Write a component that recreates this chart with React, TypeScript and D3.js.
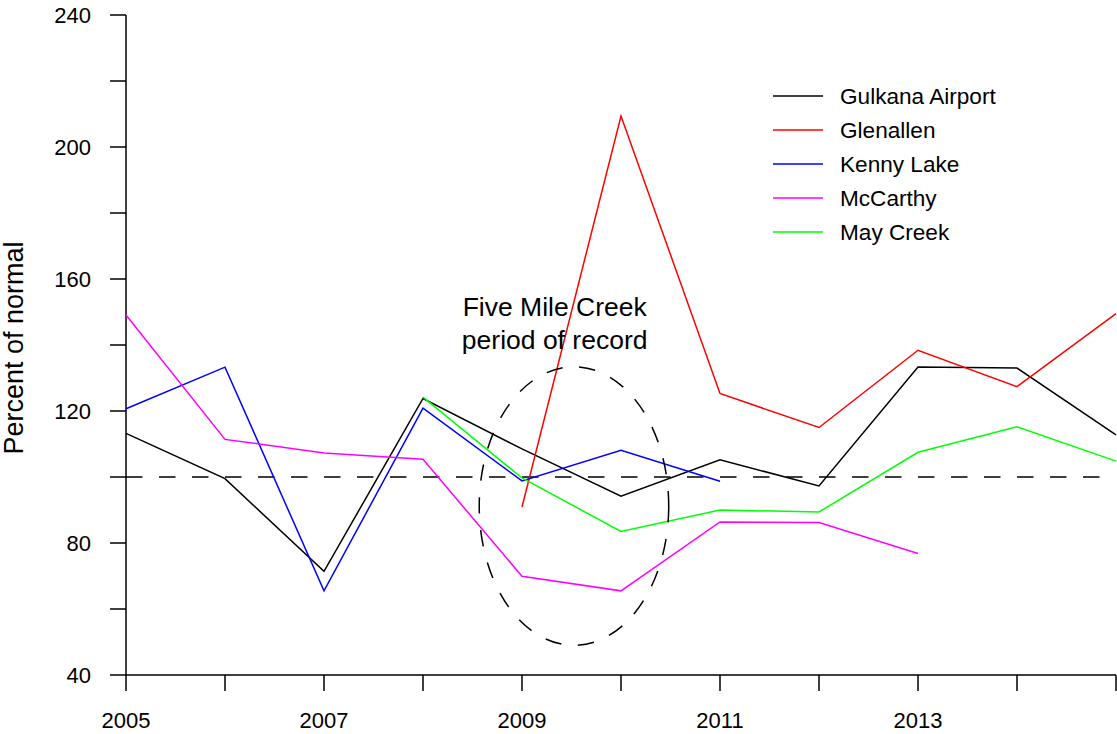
import React from "react";
import * as d3 from "d3";

const years = [2005, 2006, 2007, 2008, 2009, 2010, 2011, 2012, 2013, 2014, 2015];
const gulkana = [113.2, 99.5, 71.4, 123.8, 108.5, 94.2, 105.2, 97.3, 133.3, 133.0, 112.8];
const glenallen = [null, null, null, null, 90.9, 209.4, 125.3, 115.0, 138.4, 127.4, 149.5];
const kennyLake = [120.7, 133.3, 65.5, 120.9, 98.8, 108.1, 98.7, null, null, null, null];
const mcCarthy = [149.1, 111.4, 107.3, 105.4, 69.9, 65.5, 86.4, 86.2, 76.8, null, null];
const mayCreek = [null, null, null, 124.2, 99.7, 83.5, 90.0, 89.4, 107.5, 115.2, 104.8];

const seriesNames = ["Gulkana Airport", "Glenallen", "Kenny Lake", "McCarthy", "May Creek"];
const seriesColors = ["#000000", "#ff0000", "#0000ff", "#ff00ff", "#00ff00"];
const seriesValues = [gulkana, glenallen, kennyLake, mcCarthy, mayCreek];

const yTicks = [40, 60, 80, 100, 120, 140, 160, 180, 200, 220, 240];
const yTickLabels = [40, 80, 120, 160, 200, 240];
const xTickLabels = [2005, 2007, 2009, 2011, 2013];
const refLine = 100;

const annotationLines = ["Five Mile Creek", "period of record"];
const annotationX = 2009.33;
const annotationY = [148.7, 138.9];
const ellipseCenter = [2009.525, 91.2];
const ellipseRadii = [0.957, 42.2];

const W = 1117;
const H = 734;
const FONT = "'Liberation Sans', Arial, Helvetica, sans-serif";

export default function App() {
  const x = d3.scaleLinear().domain([2005, 2015]).range([126, 1116]);
  const y = d3.scaleLinear().domain([40, 240]).range([675, 15]);

  const line = d3
    .line<number | null>()
    .defined((d) => d !== null)
    .x((_, i) => x(years[i]))
    .y((d) => y(d as number));

  const yBottom = y(40);
  const tickLen = 16;
  const legendX0 = 773;
  const legendX1 = 823;
  const legendY0 = 96;
  const legendStep = 34;

  return (
    <svg
      width={W}
      height={H}
      style={{ position: "absolute", left: 0, top: 0, display: "block", background: "#fff" }}
      fontFamily={FONT}
    >
      {/* y axis */}
      <line x1={x(2005)} x2={x(2005)} y1={y(40)} y2={y(240)} stroke="#000" strokeWidth={1.5} />
      {yTicks.map((t) => (
        <line key={"yt" + t} x1={x(2005) - tickLen} x2={x(2005)} y1={y(t)} y2={y(t)} stroke="#000" strokeWidth={1.5} />
      ))}
      {yTickLabels.map((t) => (
        <text key={"yl" + t} x={91} y={y(t)} dy="0.36em" textAnchor="end" fontSize={22} fill="#000">
          {t}
        </text>
      ))}
      {/* x axis */}
      <line x1={x(2005)} x2={x(2015)} y1={yBottom} y2={yBottom} stroke="#000" strokeWidth={1.5} />
      {years.map((yr) => (
        <line key={"xt" + yr} x1={x(yr)} x2={x(yr)} y1={yBottom} y2={yBottom + tickLen} stroke="#000" strokeWidth={1.5} />
      ))}
      {xTickLabels.map((yr) => (
        <text key={"xl" + yr} x={x(yr)} y={728} textAnchor="middle" fontSize={22} fill="#000">
          {yr}
        </text>
      ))}
      {/* y label */}
      <text
        transform={`translate(23,${(y(40) + y(240)) / 2 + 3}) rotate(-90)`}
        textAnchor="middle"
        fontSize={27}
        fill="#000"
      >
        Percent of normal
      </text>

      {/* reference line */}
      <line
        x1={x(2005)}
        x2={x(2015)}
        y1={y(refLine)}
        y2={y(refLine)}
        stroke="#000"
        strokeWidth={1.5}
        strokeDasharray="16.5 16.5"
      />

      {/* series */}
      {seriesValues.map((vals, i) => (
        <path key={seriesNames[i]} d={line(vals) || ""} fill="none" stroke={seriesColors[i]} strokeWidth={1.5} />
      ))}

      {/* ellipse annotation */}
      <ellipse
        cx={x(ellipseCenter[0])}
        cy={y(ellipseCenter[1])}
        rx={x(2005 + ellipseRadii[0]) - x(2005)}
        ry={y(40) - y(40 + ellipseRadii[1])}
        fill="none"
        stroke="#000"
        strokeWidth={1.5}
        strokeDasharray="16.5 16.5"
      />
      {annotationLines.map((t, i) => (
        <text key={t} x={x(annotationX)} y={y(annotationY[i])} textAnchor="middle" fontSize={26.5} fill="#000">
          {t}
        </text>
      ))}

      {/* legend */}
      {seriesNames.map((name, i) => (
        <g key={"lg" + name}>
          <line
            x1={legendX0}
            x2={legendX1}
            y1={legendY0 + i * legendStep}
            y2={legendY0 + i * legendStep}
            stroke={seriesColors[i]}
            strokeWidth={1.5}
          />
          <text x={840} y={legendY0 + i * legendStep} dy="0.36em" fontSize={22.6} fill="#000">
            {name}
          </text>
        </g>
      ))}
    </svg>
  );
}
